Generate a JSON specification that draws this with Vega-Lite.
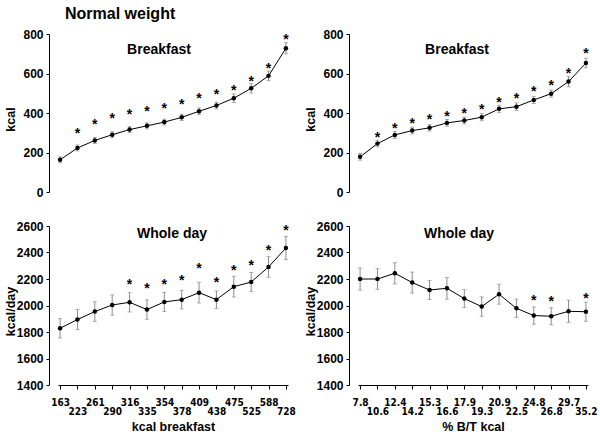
{
  "$schema": "https://vega.github.io/schema/vega-lite/v6.json",
  "padding": {"left": 4, "top": 6, "right": 4, "bottom": 4},
  "background": "white",
  "title": {"text": "Normal weight", "anchor": "start", "fontSize": 16, "dx": 61, "offset": 6},
  "datasets": {
    "bk_kcal": [
      {"cat": "163", "m": 163, "lo": 148, "hi": 178, "star": null},
      {"cat": "223", "m": 223, "lo": 208, "hi": 238, "star": 309},
      {"cat": "261", "m": 261, "lo": 246, "hi": 276, "star": 355},
      {"cat": "290", "m": 290, "lo": 275, "hi": 305, "star": 387},
      {"cat": "316", "m": 316, "lo": 301, "hi": 331, "star": 405},
      {"cat": "335", "m": 335, "lo": 320, "hi": 350, "star": 421},
      {"cat": "354", "m": 354, "lo": 339, "hi": 369, "star": 434},
      {"cat": "378", "m": 378, "lo": 362, "hi": 394, "star": 454},
      {"cat": "409", "m": 409, "lo": 392, "hi": 426, "star": 488},
      {"cat": "438", "m": 438, "lo": 421, "hi": 455, "star": 506},
      {"cat": "475", "m": 475, "lo": 453, "hi": 497, "star": 527},
      {"cat": "525", "m": 525, "lo": 501, "hi": 549, "star": 574},
      {"cat": "588", "m": 588, "lo": 564, "hi": 612, "star": 639},
      {"cat": "728", "m": 728, "lo": 700, "hi": 756, "star": 786}
    ],
    "bk_pct": [
      {"cat": "7.8", "m": 178, "lo": 161, "hi": 195, "star": null},
      {"cat": "10.6", "m": 245, "lo": 229, "hi": 261, "star": 288},
      {"cat": "12.4", "m": 289, "lo": 271, "hi": 307, "star": 335},
      {"cat": "14.2", "m": 311, "lo": 294, "hi": 328, "star": 362},
      {"cat": "15.3", "m": 325, "lo": 309, "hi": 341, "star": 380},
      {"cat": "16.6", "m": 350, "lo": 333, "hi": 367, "star": 395},
      {"cat": "17.9", "m": 362, "lo": 345, "hi": 379, "star": 411},
      {"cat": "19.3", "m": 379, "lo": 361, "hi": 397, "star": 431},
      {"cat": "20.9", "m": 421, "lo": 403, "hi": 439, "star": 468},
      {"cat": "22.5", "m": 432, "lo": 413, "hi": 451, "star": 488},
      {"cat": "24.8", "m": 466, "lo": 448, "hi": 484, "star": 520},
      {"cat": "26.8", "m": 498, "lo": 480, "hi": 516, "star": 550},
      {"cat": "29.7", "m": 559, "lo": 533, "hi": 585, "star": 614},
      {"cat": "35.2", "m": 653, "lo": 629, "hi": 677, "star": 715}
    ],
    "day_kcal": [
      {"cat": "163", "m": 1828, "lo": 1755, "hi": 1901, "star": null},
      {"cat": "223", "m": 1894, "lo": 1818, "hi": 1970, "star": null},
      {"cat": "261", "m": 1954, "lo": 1880, "hi": 2028, "star": null},
      {"cat": "290", "m": 2004, "lo": 1927, "hi": 2081, "star": null},
      {"cat": "316", "m": 2024, "lo": 1951, "hi": 2097, "star": 2180},
      {"cat": "335", "m": 1969, "lo": 1896, "hi": 2042, "star": 2147},
      {"cat": "354", "m": 2027, "lo": 1955, "hi": 2099, "star": 2177},
      {"cat": "378", "m": 2044, "lo": 1974, "hi": 2114, "star": 2205},
      {"cat": "409", "m": 2097, "lo": 2019, "hi": 2175, "star": 2298},
      {"cat": "438", "m": 2044, "lo": 1978, "hi": 2110, "star": 2190},
      {"cat": "475", "m": 2142, "lo": 2064, "hi": 2220, "star": 2281},
      {"cat": "525", "m": 2177, "lo": 2105, "hi": 2249, "star": 2318},
      {"cat": "588", "m": 2291, "lo": 2213, "hi": 2369, "star": 2432},
      {"cat": "728", "m": 2434, "lo": 2346, "hi": 2522, "star": 2583}
    ],
    "day_pct": [
      {"cat": "7.8", "m": 2200, "lo": 2116, "hi": 2284, "star": null},
      {"cat": "10.6", "m": 2200, "lo": 2122, "hi": 2278, "star": null},
      {"cat": "12.4", "m": 2243, "lo": 2163, "hi": 2323, "star": null},
      {"cat": "14.2", "m": 2173, "lo": 2094, "hi": 2252, "star": null},
      {"cat": "15.3", "m": 2117, "lo": 2045, "hi": 2189, "star": null},
      {"cat": "16.6", "m": 2130, "lo": 2048, "hi": 2212, "star": null},
      {"cat": "17.9", "m": 2052, "lo": 1985, "hi": 2119, "star": null},
      {"cat": "19.3", "m": 1992, "lo": 1919, "hi": 2065, "star": null},
      {"cat": "20.9", "m": 2085, "lo": 2010, "hi": 2160, "star": null},
      {"cat": "22.5", "m": 1979, "lo": 1910, "hi": 2048, "star": null},
      {"cat": "24.8", "m": 1924, "lo": 1859, "hi": 1989, "star": 2060},
      {"cat": "26.8", "m": 1919, "lo": 1855, "hi": 1983, "star": 2052},
      {"cat": "29.7", "m": 1956, "lo": 1872, "hi": 2040, "star": null},
      {"cat": "35.2", "m": 1953, "lo": 1881, "hi": 2025, "star": 2072}
    ]
  },
  "columns": 2,
  "spacing": {"row": 22, "column": 8},
  "concat": [
    {
      "width": 230, "height": 158,
      "title": {"text": "Breakfast", "frame": "group", "offset": -14, "baseline": "middle", "dx": -14, "dy": 22, "fontSize": 14},
      "data": {"name": "bk_kcal"},
      "encoding": {
        "x": {"field": "cat", "type": "ordinal", "sort": null, "scale": {"type": "point", "padding": 0.12}, "axis": null}
      },
      "layer": [
        {"mark": {"type": "rule", "color": "#8c8c8c", "strokeWidth": 1},
         "encoding": {"y": {"field": "lo", "type": "quantitative", "title": "kcal", "scale": {"domain": [0, 800], "nice": false}, "axis": {"values": [0, 200, 400, 600, 800], "labelOverlap": false, "tickCount": 5}}, "y2": {"field": "hi"}}},
        {"mark": {"type": "tick", "orient": "horizontal", "size": 4, "thickness": 1, "color": "#8c8c8c"},
         "encoding": {"y": {"field": "lo", "type": "quantitative", "title": "kcal"}}},
        {"mark": {"type": "tick", "orient": "horizontal", "size": 4, "thickness": 1, "color": "#8c8c8c"},
         "encoding": {"y": {"field": "hi", "type": "quantitative", "title": "kcal"}}},
        {"mark": {"type": "line", "color": "black", "strokeWidth": 1},
         "encoding": {"y": {"field": "m", "type": "quantitative", "title": "kcal"}}},
        {"mark": {"type": "point", "filled": true, "color": "black", "size": 20, "opacity": 1},
         "encoding": {"y": {"field": "m", "type": "quantitative", "title": "kcal"}}},
        {"transform": [{"filter": "datum.star != null"}],
         "mark": {"type": "text", "text": "*", "fontSize": 14, "fontWeight": "bold", "baseline": "alphabetic", "dy": 7, "color": "black"},
         "encoding": {"y": {"field": "star", "type": "quantitative", "title": "kcal"}}}
      ]
    },
    {
      "width": 230, "height": 158,
      "title": {"text": "Breakfast", "frame": "group", "offset": -14, "baseline": "middle", "dx": -16, "dy": 22, "fontSize": 14},
      "data": {"name": "bk_pct"},
      "encoding": {
        "x": {"field": "cat", "type": "ordinal", "sort": null, "scale": {"type": "point", "padding": 0.12}, "axis": null}
      },
      "layer": [
        {"mark": {"type": "rule", "color": "#8c8c8c", "strokeWidth": 1},
         "encoding": {"y": {"field": "lo", "type": "quantitative", "title": "kcal", "scale": {"domain": [0, 800], "nice": false}, "axis": {"values": [0, 200, 400, 600, 800], "labelOverlap": false, "tickCount": 5}}, "y2": {"field": "hi"}}},
        {"mark": {"type": "tick", "orient": "horizontal", "size": 4, "thickness": 1, "color": "#8c8c8c"},
         "encoding": {"y": {"field": "lo", "type": "quantitative", "title": "kcal"}}},
        {"mark": {"type": "tick", "orient": "horizontal", "size": 4, "thickness": 1, "color": "#8c8c8c"},
         "encoding": {"y": {"field": "hi", "type": "quantitative", "title": "kcal"}}},
        {"mark": {"type": "line", "color": "black", "strokeWidth": 1},
         "encoding": {"y": {"field": "m", "type": "quantitative", "title": "kcal"}}},
        {"mark": {"type": "point", "filled": true, "color": "black", "size": 20, "opacity": 1},
         "encoding": {"y": {"field": "m", "type": "quantitative", "title": "kcal"}}},
        {"transform": [{"filter": "datum.star != null"}],
         "mark": {"type": "text", "text": "*", "fontSize": 14, "fontWeight": "bold", "baseline": "alphabetic", "dy": 7, "color": "black"},
         "encoding": {"y": {"field": "star", "type": "quantitative", "title": "kcal"}}}
      ]
    },
    {
      "width": 230, "height": 159,
      "title": {"text": "Whole day", "frame": "group", "offset": -8, "baseline": "middle", "dx": -1, "dy": 20, "fontSize": 14},
      "data": {"name": "day_kcal"},
      "encoding": {
        "x": {"field": "cat", "type": "ordinal", "sort": null, "scale": {"type": "point", "padding": 0.12},
              "axis": {"title": "kcal breakfast", "labelExpr": "indexof(['223','290','335','378','438','525','728'], datum.label) >= 0 ? ['', datum.label] : datum.label"}}
      },
      "layer": [
        {"mark": {"type": "rule", "color": "#8c8c8c", "strokeWidth": 1},
         "encoding": {"y": {"field": "lo", "type": "quantitative", "title": "kcal/day", "scale": {"domain": [1400, 2600], "nice": false}, "axis": {"values": [1400, 1600, 1800, 2000, 2200, 2400, 2600], "labelOverlap": false, "tickCount": 7}}, "y2": {"field": "hi"}}},
        {"mark": {"type": "tick", "orient": "horizontal", "size": 4, "thickness": 1, "color": "#8c8c8c"},
         "encoding": {"y": {"field": "lo", "type": "quantitative", "title": "kcal/day"}}},
        {"mark": {"type": "tick", "orient": "horizontal", "size": 4, "thickness": 1, "color": "#8c8c8c"},
         "encoding": {"y": {"field": "hi", "type": "quantitative", "title": "kcal/day"}}},
        {"mark": {"type": "line", "color": "black", "strokeWidth": 1},
         "encoding": {"y": {"field": "m", "type": "quantitative", "title": "kcal/day"}}},
        {"mark": {"type": "point", "filled": true, "color": "black", "size": 20, "opacity": 1},
         "encoding": {"y": {"field": "m", "type": "quantitative", "title": "kcal/day"}}},
        {"transform": [{"filter": "datum.star != null"}],
         "mark": {"type": "text", "text": "*", "fontSize": 14, "fontWeight": "bold", "baseline": "alphabetic", "dy": 7, "color": "black"},
         "encoding": {"y": {"field": "star", "type": "quantitative", "title": "kcal/day"}}}
      ]
    },
    {
      "width": 230, "height": 159,
      "title": {"text": "Whole day", "frame": "group", "offset": -8, "baseline": "middle", "dx": -14, "dy": 20, "fontSize": 14},
      "data": {"name": "day_pct"},
      "encoding": {
        "x": {"field": "cat", "type": "ordinal", "sort": null, "scale": {"type": "point", "padding": 0.12},
              "axis": {"title": "% B/T kcal", "labelExpr": "indexof(['10.6','14.2','16.6','19.3','22.5','26.8','35.2'], datum.label) >= 0 ? ['', datum.label] : datum.label"}}
      },
      "layer": [
        {"mark": {"type": "rule", "color": "#8c8c8c", "strokeWidth": 1},
         "encoding": {"y": {"field": "lo", "type": "quantitative", "title": "kcal/day", "scale": {"domain": [1400, 2600], "nice": false}, "axis": {"values": [1400, 1600, 1800, 2000, 2200, 2400, 2600], "labelOverlap": false, "tickCount": 7}}, "y2": {"field": "hi"}}},
        {"mark": {"type": "tick", "orient": "horizontal", "size": 4, "thickness": 1, "color": "#8c8c8c"},
         "encoding": {"y": {"field": "lo", "type": "quantitative", "title": "kcal/day"}}},
        {"mark": {"type": "tick", "orient": "horizontal", "size": 4, "thickness": 1, "color": "#8c8c8c"},
         "encoding": {"y": {"field": "hi", "type": "quantitative", "title": "kcal/day"}}},
        {"mark": {"type": "line", "color": "black", "strokeWidth": 1},
         "encoding": {"y": {"field": "m", "type": "quantitative", "title": "kcal/day"}}},
        {"mark": {"type": "point", "filled": true, "color": "black", "size": 20, "opacity": 1},
         "encoding": {"y": {"field": "m", "type": "quantitative", "title": "kcal/day"}}},
        {"transform": [{"filter": "datum.star != null"}],
         "mark": {"type": "text", "text": "*", "fontSize": 14, "fontWeight": "bold", "baseline": "alphabetic", "dy": 7, "color": "black"},
         "encoding": {"y": {"field": "star", "type": "quantitative", "title": "kcal/day"}}}
      ]
    }
  ],
  "config": {
    "view": {"stroke": null},
    "font": "Liberation Sans",
    "title": {"font": "Liberation Sans", "fontWeight": "bold", "color": "black"},
    "axis": {"domainColor": "black", "tickColor": "black", "grid": false, "labelColor": "black", "titleColor": "black", "labelFontWeight": "bold", "titleFontWeight": "bold", "tickSize": 3, "domainWidth": 1, "tickWidth": 1, "labelFont": "Liberation Sans", "titleFont": "Liberation Sans", "labelOverlap": false},
    "axisY": {"labelFontSize": 12, "titleFontSize": 12.5, "labelPadding": 3, "offset": 9, "titleX": -39, "titleY": 85, "titleAngle": -90, "titleBaseline": "middle", "titleAlign": "center", "format": "d", "labelOverlap": false},
    "axisX": {"labelFontSize": 10, "labelFont": "Liberation Sans Narrow, DejaVu Sans Condensed, sans-serif", "labelAngle": 0, "labelPadding": 8, "labelLineHeight": 9.5, "tickSize": 4, "titleFontSize": 12.5, "titlePadding": 4}
  }
}
